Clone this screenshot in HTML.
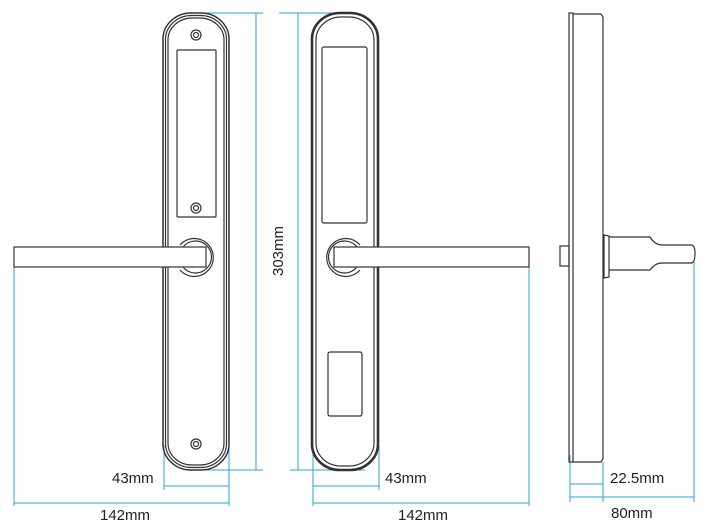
<!DOCTYPE html>
<html><head><meta charset="utf-8"><style>
html,body{margin:0;padding:0;background:#fff;}
svg{display:block;}
text{font-family:"Liberation Sans",sans-serif;font-size:15px;fill:#222;}
</style></head><body>
<svg width="710" height="530" viewBox="0 0 710 530" xmlns="http://www.w3.org/2000/svg">
<g fill="none" stroke="#29a3d6" stroke-width="1">
  <!-- left view dims -->
  <line x1="185" y1="13" x2="263" y2="13"/>
  <line x1="256" y1="13" x2="256" y2="470"/>
  <line x1="187" y1="470" x2="263" y2="470"/>
  <line x1="164" y1="445" x2="164" y2="490"/>
  <line x1="229" y1="445" x2="229" y2="506"/>
  <line x1="164" y1="486" x2="229" y2="486"/>
  <line x1="14" y1="267" x2="14" y2="506"/>
  <line x1="14" y1="503" x2="229" y2="503"/>
  <!-- middle view dims -->
  <line x1="279" y1="13" x2="355" y2="13"/>
  <line x1="298" y1="13" x2="298" y2="470"/>
  <line x1="290" y1="470" x2="365" y2="470"/>
  <line x1="313" y1="445" x2="313" y2="506"/>
  <line x1="379" y1="445" x2="379" y2="490"/>
  <line x1="313" y1="486" x2="379" y2="486"/>
  <line x1="529" y1="267" x2="529" y2="506"/>
  <line x1="313" y1="503" x2="529" y2="503"/>
  <!-- side dims -->
  <line x1="570" y1="455" x2="570" y2="502"/>
  <line x1="603" y1="462" x2="603" y2="502"/>
  <line x1="570" y1="484" x2="603" y2="484"/>
  <line x1="694" y1="262" x2="694" y2="502"/>
  <line x1="570" y1="497" x2="694" y2="497"/>
</g>
<g fill="none" stroke="#333" stroke-width="1.2">
  <!-- left plate -->
  <rect x="163" y="13" width="66" height="457" rx="28" ry="26" stroke-width="1.5"/>
  <rect x="165.5" y="15.5" width="61" height="452" rx="26" ry="24"/>
  <rect x="168" y="18" width="56" height="447" rx="24" ry="22"/>
  <rect x="177" y="50" width="39" height="167" rx="1"/>
  <circle cx="196" cy="35" r="5"/><circle cx="196" cy="35" r="2.5"/>
  <circle cx="196" cy="208" r="5"/><circle cx="196" cy="208" r="2.5"/>
  <circle cx="196" cy="444" r="5"/><circle cx="196" cy="444" r="2.5"/>
  <rect x="14" y="247" width="192" height="20" fill="#fff"/>
  <path d="M 180 245 A 19 19 0 1 1 180 270"/>
  <path d="M 183 247 A 16 16 0 1 1 183 267"/>
  <!-- middle plate -->
  <rect x="312" y="13" width="66" height="457" rx="28" ry="26" stroke-width="2.6"/>
  <rect x="316" y="17" width="58" height="449" rx="25" ry="23"/>
  <rect x="322" y="47" width="45" height="176" rx="2"/>
  <rect x="328" y="352" width="34" height="64" rx="2"/>
  <rect x="334" y="247" width="195" height="20" fill="#fff"/>
  <path d="M 360 245 A 19 19 0 1 0 360 270"/>
  <path d="M 357 247 A 16 16 0 1 0 357 267"/>
  <!-- side view -->
  <rect x="569" y="13" width="4" height="449"/>
  <path d="M 573 14 L 601 14 L 603 17 L 603 459 L 601 462 L 573 462"/>
  <rect x="560" y="246" width="9" height="20"/>
  <path d="M 604 235 L 609 236 L 609 277 L 604 278 Z"/>
  <path d="M 609 237 L 650 237 Q 655 245 662 245 L 691 245 Q 695 245 695 253 Q 695 263 691 263 L 662 263 Q 655 263 650 270 L 609 270"/>
</g>
<text x="112" y="483">43mm</text>
<text x="385" y="483">43mm</text>
<text x="100" y="520">142mm</text>
<text x="398" y="520">142mm</text>
<text x="610" y="483">22.5mm</text>
<text x="611" y="518">80mm</text>
<text transform="translate(283,276) rotate(-90)">303mm</text>
</svg>
</body></html>
